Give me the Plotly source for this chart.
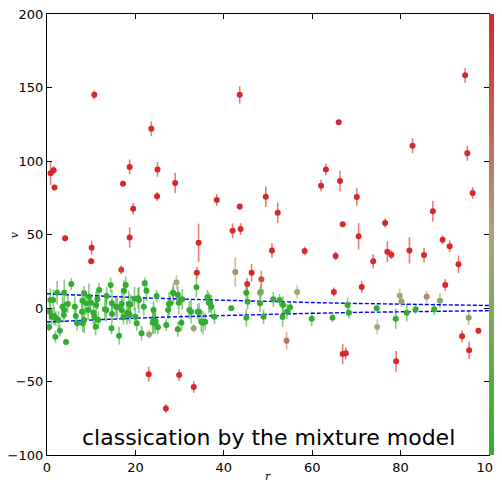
import plotly.graph_objects as go

# ---- data ----
# red / outlier-like points
r_out = [0.8, 1.5, 1.7, 4.1, 10.7, 10.1, 10.0, 16.8, 17.2, 18.7, 18.7, 19.5, 23.6, 25.0, 24.9, 29.0,
         34.3, 38.4, 42.0, 43.6, 43.6, 43.8, 33.9, 46.3, 45.3, 48.5, 23.0, 29.9, 26.9, 33.2,
         94.6, 66.0, 82.7, 95.1, 63.1, 62.0, 66.3, 49.5, 52.2, 70.1, 96.3, 87.3, 66.9, 76.5,
         70.5, 89.5, 91.1, 50.9, 58.3, 65.3, 71.2, 73.8, 77.0, 77.9, 82.0, 85.3, 90.1, 93.1,
         64.9, 66.9, 67.6, 79.0, 93.9, 95.5, 97.6]
v_out = [91.6, 93.7, 82.0, 47.4, 145.0, 41.0, 31.8, 26.0, 84.6, 96.0, 48.0, 67.6, 122.0, 94.3, 76.0, 85.0,
         44.4, 73.5, 52.6, 145.0, 69.0, 53.7, 24.0, 24.0, 16.3, 19.5, -45.0, -45.6, -68.3, -53.7,
         158.3, 126.3, 110.4, 105.2, 94.3, 83.2, 86.4, 75.7, 64.8, 75.5, 78.2, 65.8, 57.0, 57.8,
         48.8, 46.5, 42.0, 39.2, 38.8, 35.4, 14.3, 31.8, 38.3, 36.3, 39.2, 36.0, 15.6, 29.7,
         10.9, -31.3, -30.8, -36.3, -19.3, -28.8, -15.4]
e_out = [8, 3, 2, 2, 3, 5, 2, 3, 2, 5, 7, 4, 5, 5, 3, 7,
         13, 4, 5, 6, 2, 4, 4, 6, 4, 6, 5, 4, 3, 4,
         5, 1, 5, 5, 4, 4, 7, 7, 7, 6, 4, 7, 1, 3,
         9, 3, 4, 5, 3, 3, 4, 5, 7, 3, 9, 5, 4, 6,
         3, 7, 4, 7, 4, 6, 2]
p_out = [1.0] * 7 + [0.9] + [1.0] * 17 + [0.85] + [1.0] * 39

# intermediate points (tan / olive)
r_mid = [48.4, 56.6, 54.2, 74.7, 79.8, 80.2, 85.9, 88.9, 95.4, 42.6, 29.3, 23.1, 33.2, 48.2]
v_mid = [11.1, 10.9, -22.2, -12.9, 8.4, 4.5, 7.7, 5.0, -6.6, 24.5, 17.5, -18.0, -13.8, 10.4]
e_mid = [5, 5, 6, 5, 5, 4, 4, 5, 5, 10, 5, 3, 3, 4]
p_mid = [0.35, 0.45, 0.7, 0.5, 0.5, 0.4, 0.6, 0.35, 0.35, 0.6, 0.5, 0.45, 0.4, 0.3]

# green / inlier points
r_in = [0.5, 0.6, 0.75, 1.1, 1.4, 1.6, 1.9, 2.0, 2.3, 2.6, 2.9, 3.5, 3.8, 3.9, 3.9, 4.3, 4.7, 5.5,
        6.3, 6.5, 6.8, 7.9, 8.0, 8.1, 8.4, 8.4, 8.8, 9.3, 9.5, 9.9, 10.5, 10.7, 11.0, 11.1, 11.4,
        11.6, 11.8, 13.1, 13.4, 13.5, 14.4, 14.6, 14.7, 14.7, 15.6, 15.9, 16.3, 16.9, 16.9, 17.3,
        17.4, 17.8, 18.1, 18.4, 18.5, 18.7, 18.9, 19.8, 20.0, 20.3, 20.6, 20.8, 21.4, 21.9, 22.1,
        22.5, 23.9, 24.1, 24.1, 24.5, 24.5, 24.8, 25.1, 27.0, 27.4, 27.6, 27.9, 28.5, 28.6, 29.6,
        29.6, 29.8, 30.4, 30.6, 32.2, 32.6, 33.8, 34.1, 34.4, 34.9, 35.3, 35.8, 36.3, 36.6, 36.9,
        37.2, 37.9, 41.7, 45.1, 45.4, 48.2, 45.1, 49.0, 51.2, 52.6, 53.4, 53.3, 54.3, 55.0, 59.9,
        64.6, 68.0, 68.3, 74.6, 78.9, 81.4, 83.4, 87.6]
v_in = [-13.0, -2.5, 5.4, -5.9, 5.4, -5.4, -19.5, -7.0, 10.4, -8.2, -15.4, 0.9, -4.8, -1.4, 10.4, -23.1, 2.7, 16.3,
        0.9, -5.4, -10.4, -2.5, 5.0, -10.4, -8.2, 10.0, 3.2, -1.4, 7.7, 3.6, -3.2, -5.9, -12.7, 2.0, 5.9,
        -8.2, 12.2, -0.9, -1.4, 8.2, 15.6, -13.8, 3.2, -4.1, 0.9, 0.5, -18.8, 2.7, -1.4, -6.3,
        11.8, 15.6, -3.2, -3.6, 2.7, -4.8, 2.5, 6.3, -5.9, -10.4, 6.6, 5.4, -17.2, 0.9, 16.8,
        11.8, -10.0, -1.4, -8.2, -10.4, -8.8, 8.2, -13.1, -11.6, -1.4, 2.7, 3.2, 10.4, 10.0, 8.8,
        -14.5, 3.6, -10.0, 5.9, -1.4, -2.5, 14.1, -2.5, -2.5, -9.3, -10.0, -9.3, 7.3, 3.6, 3.2,
        0.9, -5.9, -0.2, 10.4, 4.3, 3.2, -6.6, -5.9, 5.9, 5.4, 2.0, -6.1, -2.5, 0.5, -7.3,
        -6.6, 2.0, -3.2, -0.2, -7.3, -3.2, -0.9, -0.9]
e_in = [3, 6, 8, 5, 7, 6, 4, 5, 8, 6, 4, 7, 5, 6, 9, 2, 6, 4,
        7, 6, 5, 8, 7, 6, 9, 5, 8, 7, 9, 6, 8, 5, 6, 9, 7,
        6, 5, 7, 8, 6, 5, 4, 9, 6, 7, 8, 6, 9, 7, 5,
        7, 6, 8, 5, 9, 6, 7, 8, 6, 5, 7, 9, 5, 6, 4,
        7, 8, 6, 9, 7, 6, 4, 5, 4, 6, 8, 5, 4, 7, 6,
        5, 8, 6, 7, 6, 8, 7, 5, 6, 7, 8, 6, 5, 7, 6,
        8, 5, 1, 7, 5, 6, 6, 5, 5, 4, 6, 7, 5, 4, 5,
        3, 5, 4, 2, 7, 6, 3, 4]
p_in = [0.0] * len(r_in)

# model band (dashed lines)
band_r = [0, 10, 20, 30, 40, 50, 60, 70, 80, 90, 100]
band_hi = [9.7, 8.3, 7.1, 6.1, 5.2, 4.4, 3.7, 3.1, 2.6, 2.1, 1.7]
band_lo = [-9.5, -8.1, -6.9, -5.9, -5.0, -4.3, -3.6, -3.0, -2.5, -2.1, -1.8]

x_ticks = [0, 20, 40, 60, 80, 100]
y_ticks = [-100, -50, 0, 50, 100, 150, 200]

# ---- styling ----
stops = [(0.0, (50, 172, 50)), (0.5, (170, 165, 118)), (1.0, (214, 40, 40))]
cscale = [[s, "rgb(%d,%d,%d)" % c] for s, c in stops]


def col(p, a=1.0):
    for (s0, c0), (s1, c1) in zip(stops[:-1], stops[1:]):
        if s0 <= p <= s1:
            t = (p - s0) / (s1 - s0)
            c = [round(c0[i] + t * (c1[i] - c0[i])) for i in range(3)]
            return "rgba(%d,%d,%d,%.2f)" % (c[0], c[1], c[2], a)
    return "rgba(0,0,0,1)"


R = r_in + r_mid + r_out
V = v_in + v_mid + v_out
E = e_in + e_mid + e_out
P = p_in + p_mid + p_out

fig = go.Figure()

# error bars grouped by colour
for pv in sorted(set(P)):
    idx = [i for i, p in enumerate(P) if p == pv]
    fig.add_trace(go.Scatter(
        x=[R[i] for i in idx], y=[V[i] for i in idx], mode="markers",
        marker=dict(size=1, opacity=0),
        error_y=dict(type="data", array=[E[i] for i in idx], visible=True,
                     color=col(pv, 0.6), thickness=1.6, width=0),
        showlegend=False, hoverinfo="skip"))

for yy in (band_hi, band_lo):
    fig.add_trace(go.Scatter(x=band_r, y=yy, mode="lines",
                             line=dict(color="rgb(0,0,255)", width=1.4, dash="4px,2px"),
                             showlegend=False))

fig.add_trace(go.Scatter(
    x=R, y=V, mode="markers",
    marker=dict(size=6, color=P, colorscale=cscale, cmin=0, cmax=1,
                line=dict(width=0),
                colorbar=dict(thickness=13, x=1, xanchor="left", xpad=0, ypad=0,
                              len=1, lenmode="fraction", y=0.5, yanchor="middle",
                              outlinewidth=0, showticklabels=False, ticks="")),
    showlegend=False))

axis_common = dict(showline=True, linecolor="black", linewidth=1.2, mirror="allticks",
                   ticks="inside", ticklen=5, tickwidth=1, tickcolor="black",
                   showgrid=False, zeroline=False, automargin=False,
                   ticklabeloverflow="allow",
                   tickfont=dict(family="DejaVu Sans", size=13, color="black"))

# page body has an 8px margin, so the figure is sized to fit inside the window
fig.update_layout(
    width=494, height=474,
    margin=dict(l=39, r=13, t=6, b=27, autoexpand=False),
    paper_bgcolor="white", plot_bgcolor="white",
    xaxis=dict(range=[0, 100], tickvals=x_ticks, **axis_common),
    yaxis=dict(range=[-100, 200], tickvals=y_ticks, **axis_common),
    annotations=[
        dict(text="classication by the mixture model", x=50, y=-88, xref="x", yref="y",
             showarrow=False, font=dict(family="DejaVu Sans", size=22, color="black"),
             xanchor="center", yanchor="middle"),
        dict(text="<i>v</i>", x=-0.073, y=0.5, xref="paper", yref="paper", showarrow=False,
             font=dict(family="DejaVu Serif", size=11, color="black"), textangle=-90,
             xanchor="center", yanchor="middle"),
        dict(text="<i>r</i>", x=0.5, y=-0.048, xref="paper", yref="paper", showarrow=False,
             font=dict(family="DejaVu Serif", size=11, color="black"),
             xanchor="center", yanchor="middle"),
    ],
)

fig.write_html("out.html")
